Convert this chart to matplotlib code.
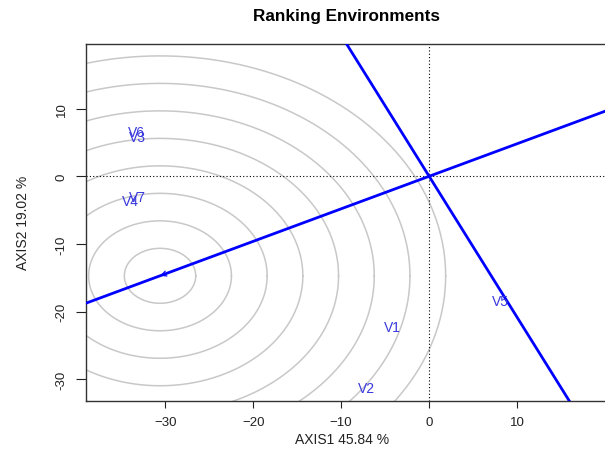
import numpy as np
import matplotlib.pyplot as plt

plt.rcParams['font.family'] = ['Liberation Sans', 'DejaVu Sans']

# environment scores (axis1, axis2)
env_names = ['V1', 'V2', 'V3', 'V4', 'V5', 'V6', 'V7']
env_x = [-4.2, -7.1, -33.2, -34.0, 8.1, -33.25, -33.2]
env_y = [-22.2, -31.2, 5.8, -3.7, -18.4, 6.5, -3.1]

# average environment point and concentric ring radii
aec_x, aec_y = -30.6, -14.7
ring_radii = [4.06, 8.12, 12.18, 16.24, 20.3, 24.36, 28.42, 32.48]

x_ticks = [-30, -20, -10, 0, 10]
y_ticks = [-30, -20, -10, 0, 10]
xlim = (-39.05, 20.0)
ylim = (-33.15, 19.54)

fig = plt.figure(figsize=(6.05, 4.6), dpi=100)
ax = fig.add_axes([0.1417, 0.1267, 0.8583, 0.7755])

t = np.linspace(0, 2 * np.pi, 400)
for r in ring_radii:
    ax.plot(aec_x + r * np.cos(t), aec_y + r * np.sin(t), color='#c8c8c8', lw=1.1, zorder=1)

ax.axhline(0, color='black', ls=(0, (1, 2)), lw=0.8, zorder=2)
ax.axvline(0, color='black', ls=(0, (1, 2)), lw=0.8, zorder=2)

# AEC abscissa through origin and the average environment, plus its perpendicular
slope = aec_y / aec_x
xs = np.array([-100, 100])
ax.plot(xs, slope * xs, color='blue', lw=2, zorder=3)
ax.plot(xs, -xs / slope, color='blue', lw=2, zorder=3)

ax.annotate('', xy=(aec_x, aec_y), xytext=(0, 0),
            arrowprops=dict(arrowstyle='->', color='blue', lw=0.9,
                            mutation_scale=9, shrinkA=0, shrinkB=0), zorder=3)

for name, x, y in zip(env_names, env_x, env_y):
    ax.text(x, y, name, color='#3838dd', fontsize=10, ha='center', va='center', zorder=4)

ax.set_xlim(*xlim)
ax.set_ylim(*ylim)
ax.set_xticks(x_ticks)
ax.set_yticks(y_ticks)
ax.set_xticklabels([str(v).replace('-', '\u2212') for v in x_ticks])
ax.set_yticklabels([str(v) for v in y_ticks], rotation=90, va='center')
ax.tick_params(axis='x', length=5, width=0.8, labelsize=9.5, pad=6, colors='#222222')
ax.tick_params(axis='y', length=7, width=0.8, labelsize=9.5, pad=6, colors='#222222')
for s in ['left', 'bottom', 'top']:
    ax.spines[s].set_linewidth(1.0)
    ax.spines[s].set_color('#333333')
ax.spines['right'].set_visible(False)

fig.text(346 / 605, 1 - 17 / 460, 'Ranking Environments', ha='center', va='center',
         fontsize=12.3, fontweight='bold')
fig.text(342 / 605, 1 - 440 / 460, 'AXIS1 45.84 %', ha='center', va='center',
         fontsize=10, color='#222222')
fig.text(23 / 605, 1 - 223 / 460, 'AXIS2 19.02 %', ha='center', va='center',
         fontsize=10, rotation=90, color='#222222')

fig.savefig('out.png', dpi=100)
